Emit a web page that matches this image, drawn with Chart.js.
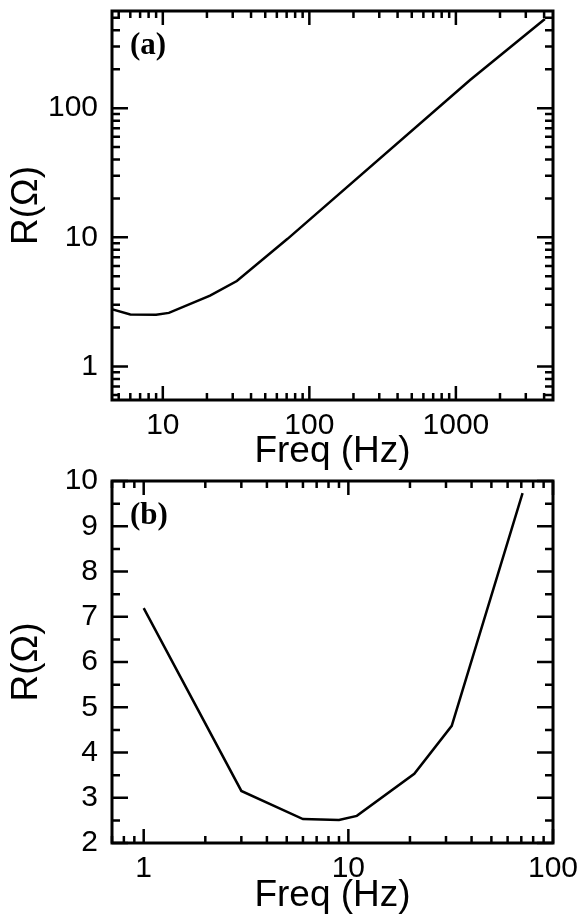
<!DOCTYPE html>
<html>
<head>
<meta charset="utf-8">
<script src="https://cdn.jsdelivr.net/npm/chart.js@4"></script>
<style>
body { margin: 0; background: #fff; }
#wrap { position: relative; width: 578px; height: 917px; overflow: hidden; }
canvas { position: absolute; left: 0; }
#panelA { top: 0; }
#panelB { top: 460px; }
</style>
</head>
<body>
<div id="wrap">
<canvas id="panelA" width="578" height="470"></canvas>
<canvas id="panelB" width="578" height="457"></canvas>
</div>
<script>
var freqHz = [1, 3, 6, 9, 11, 21, 32, 71, 1250, 4050];
var resistencia = [7.19, 3.15, 2.53, 2.51, 2.6, 3.53, 4.59, 9.73, 165, 490];

// marcas dos eixos (menores + maiores) e as que levam rotulo
var ticksAX = [5, 6, 7, 8, 9, 10, 20, 30, 40, 50, 60, 70, 80, 90, 100, 200, 300, 400, 500, 600, 700, 800, 900, 1000, 2000, 3000, 4000];
var rotulosAX = [10, 100, 1000];
var ticksAY = [0.6, 0.7, 0.8, 0.9, 1, 2, 3, 4, 5, 6, 7, 8, 9, 10, 20, 30, 40, 50, 60, 70, 80, 90, 100, 200, 300, 400, 500];
var rotulosAY = [1, 10, 100];
var ticksBX = [0.7, 0.8, 0.9, 1, 2, 3, 4, 5, 6, 7, 8, 9, 10, 20, 30, 40, 50, 60, 70, 80, 90, 100];
var rotulosBX = [1, 10, 100];
var ticksBY = [2, 2.5, 3, 3.5, 4, 4.5, 5, 5.5, 6, 6.5, 7, 7.5, 8, 8.5, 9, 9.5, 10];
var rotulosBY = [2, 3, 4, 5, 6, 7, 8, 9, 10];

Chart.defaults.font.family = '"Liberation Sans", Arial, sans-serif';
Chart.defaults.color = '#000';

function pontos(maxFreq) {
    var lista = [];
    for (var i = 0; i < freqHz.length; i++) {
        if (freqHz[i] <= maxFreq) lista.push({ x: freqHz[i], y: resistencia[i] });
    }
    return lista;
}

// moldura, marcas para dentro nos quatro lados e a letra do painel
function moldura(letra, xMaior, yMaior) {
    return {
        id: 'moldura',
        afterDraw: function (chart) {
            var ctx = chart.ctx, a = chart.chartArea;
            var sx = chart.scales.x, sy = chart.scales.y;
            ctx.save();
            ctx.strokeStyle = '#000';
            ctx.lineWidth = 2.5;
            ctx.beginPath();
            sx.ticks.forEach(function (t) {
                var px = sx.getPixelForValue(t.value);
                var len = xMaior.indexOf(t.value) >= 0 ? 14 : 7;
                ctx.moveTo(px, a.bottom); ctx.lineTo(px, a.bottom - len);
                ctx.moveTo(px, a.top); ctx.lineTo(px, a.top + len);
            });
            sy.ticks.forEach(function (t) {
                var py = sy.getPixelForValue(t.value);
                var len = yMaior.indexOf(t.value) >= 0 ? 16 : 8;
                ctx.moveTo(a.left, py); ctx.lineTo(a.left + len, py);
                ctx.moveTo(a.right, py); ctx.lineTo(a.right - len, py);
            });
            ctx.stroke();
            ctx.lineWidth = 3;
            ctx.strokeRect(a.left, a.top, a.right - a.left, a.bottom - a.top);
            ctx.fillStyle = '#000';
            ctx.font = 'bold 31px "Liberation Serif", "Times New Roman", serif';
            ctx.textBaseline = 'top';
            ctx.fillText(letra, a.left + 18, a.top + 19);
            ctx.restore();
        }
    };
}

function eixo(tipo, min, max, marcas, rotulos, tamanho, titulo, tituloPad, horizontal) {
    return {
        type: tipo,
        min: min,
        max: max,
        grid: { display: false, drawTicks: false },
        border: { display: false },
        afterBuildTicks: function (s) {
            s.ticks = marcas.map(function (v) { return { value: v }; });
        },
        afterFit: function (s) {
            if (horizontal) {
                s.height = tamanho;
                s.paddingLeft = 0;
                s.paddingRight = 0;
            } else {
                s.width = tamanho;
                s.paddingTop = 0;
                s.paddingBottom = 0;
            }
        },
        ticks: {
            autoSkip: false,
            maxRotation: 0,
            padding: horizontal ? 8 : 14,
            font: { size: 30 },
            color: '#000',
            callback: function (v) { return rotulos.indexOf(v) >= 0 ? String(v) : ''; }
        },
        title: {
            display: true,
            text: titulo,
            color: '#000',
            font: { size: 37, lineHeight: 1 },
            padding: horizontal ? { top: 0, bottom: tituloPad } : { top: tituloPad, bottom: 0 }
        }
    };
}

function linha(dados) {
    return {
        data: dados,
        borderColor: '#000',
        borderWidth: 2.5,
        pointRadius: 0,
        tension: 0,
        fill: false
    };
}

var graficoA = new Chart(document.getElementById('panelA').getContext('2d'), {
    type: 'line',
    data: { datasets: [linha(pontos(Infinity))] },
    options: {
        responsive: false,
        animation: false,
        layout: { padding: { top: 11, right: 25, left: 0, bottom: 0 } },
        plugins: { legend: { display: false }, tooltip: { enabled: false } },
        scales: {
            x: eixo('logarithmic', 4.5, 4600, ticksAX, rotulosAX, 70, 'Freq (Hz)', 0, true),
            y: eixo('logarithmic', 0.55, 565, ticksAY, rotulosAY, 112, 'R(Ω)', 8, false)
        }
    },
    plugins: [moldura('(a)', rotulosAX, rotulosAY)]
});

var graficoB = new Chart(document.getElementById('panelB').getContext('2d'), {
    type: 'line',
    data: { datasets: [linha(pontos(100))] },
    options: {
        responsive: false,
        animation: false,
        layout: { padding: { top: 21, right: 25, left: 0, bottom: 0 } },
        plugins: { legend: { display: false }, tooltip: { enabled: false } },
        scales: {
            x: eixo('logarithmic', 0.7, 100, ticksBX, rotulosBX, 74, 'Freq (Hz)', 3, true),
            y: eixo('linear', 2, 10, ticksBY, rotulosBY, 112, 'R(Ω)', 8, false)
        }
    },
    plugins: [moldura('(b)', rotulosBX, rotulosBY)]
});
</script>
</body>
</html>
